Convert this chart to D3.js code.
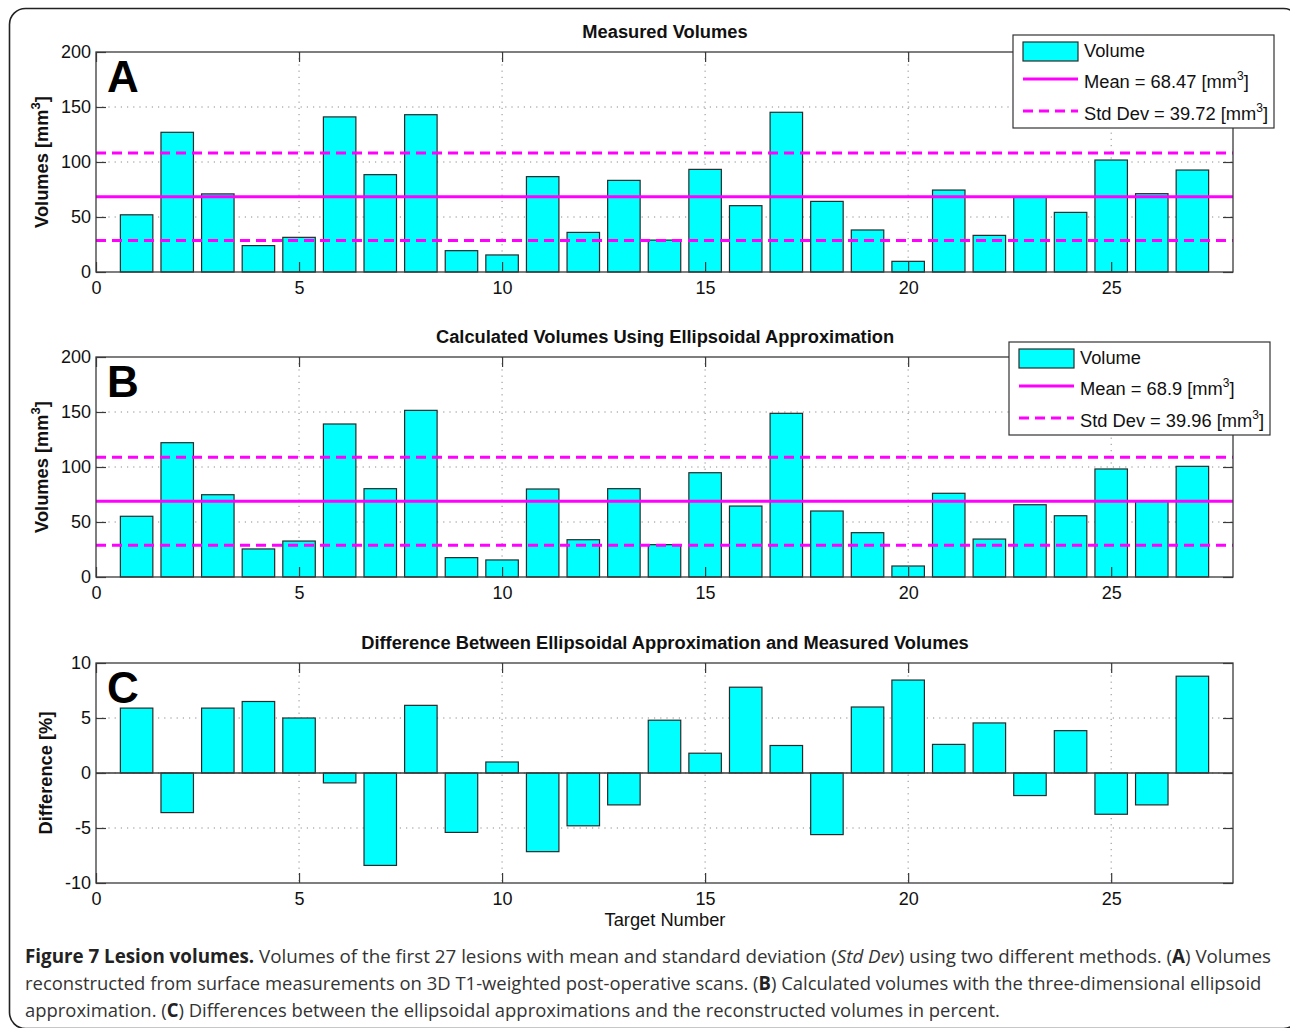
<!DOCTYPE html>
<html>
<head>
<meta charset="utf-8">
<script src="https://cdn.jsdelivr.net/npm/d3@7"></script>
<style>
  html, body { margin: 0; padding: 0; background: #fff; }
  svg { display: block; }
</style>
</head>
<body>
<svg id="fig" width="1290" height="1028"></svg>
<script>
// Target (lesion) numbers
const targets = [1, 2, 3, 4, 5, 6, 7, 8, 9, 10, 11, 12, 13, 14, 15, 16, 17, 18, 19, 20, 21, 22, 23, 24, 25, 26, 27];

// Volumes reconstructed from surface measurements [mm^3]
const measuredVolumes = [52, 127, 71, 24, 31.5, 141, 88.5, 143, 19.4, 15.5, 86.7, 36, 83.3, 29, 93.3,
  60.3, 145.2, 64.2, 38.2, 9.7, 74.5, 33.3, 68, 54.2, 101.8, 71.2, 92.7];

// Volumes from the ellipsoidal approximation [mm^3]
const ellipsoidVolumes = [55.2, 122.1, 74.8, 25.5, 32.7, 139.1, 80.3, 151.5, 17.6, 15.5, 80, 33.9, 80.3, 29.4, 94.8,
  64.5, 148.8, 60, 40.3, 10, 76.1, 34.5, 65.7, 55.7, 98.2, 69, 100.6];

// Relative difference between the two methods [%]
const differencePct = [5.9, -3.6, 5.9, 6.5, 5.0, -0.9, -8.4, 6.15, -5.4, 1.0, -7.15, -4.8, -2.9, 4.8, 1.8,
  7.8, 2.5, -5.6, 6.0, 8.45, 2.6, 4.55, -2.05, 3.85, -3.75, -2.9, 8.8];

// Summary statistics shown in the legends
const measuredMean = 68.47, measuredStd = 39.72;
const ellipsoidMean = 68.9, ellipsoidStd = 39.96;

// Tick labels
const xTicks = [0, 5, 10, 15, 20, 25];
const volumeTicks = [0, 50, 100, 150, 200];
const diffTicks = [-10, -5, 0, 5, 10];

const svg = d3.select("#fig");
const FONT = "'Liberation Sans', Arial, Helvetica, sans-serif";
const AXIS_COLOR = "#3a3a3a";
const BAR_FILL = "#00ffff";
const MAGENTA = "#ff00ff";
const TICK_SIZE = 18;
const LABEL_SIZE = 18.3;

// Outer frame of the figure
svg.append("rect")
  .attr("x", 9.5).attr("y", 8.5)
  .attr("width", 1290).attr("height", 1020)
  .attr("rx", 16).attr("ry", 16)
  .attr("fill", "none").attr("stroke", "#222").attr("stroke-width", 1.6);

const x = d3.scaleLinear().domain([0, 28]).range([96, 1233]);
const plainNumber = d => String(d);

function drawPanel(cfg) {
  const g = svg.append("g");
  const y = d3.scaleLinear().domain(cfg.domain).range([cfg.bottom, cfg.top]);
  const tickLen = 10;

  // dotted grid
  const grid = g.append("g").attr("stroke", "#8a8a8a").attr("stroke-width", 1)
    .attr("stroke-dasharray", "1.2,5");
  xTicks.filter(t => t > 0).forEach(t => {
    grid.append("line").attr("x1", x(t)).attr("x2", x(t))
      .attr("y1", cfg.top).attr("y2", cfg.bottom);
  });
  cfg.ticks.filter(t => t !== cfg.domain[0] && t !== cfg.domain[1]).forEach(t => {
    grid.append("line").attr("x1", x(0)).attr("x2", x(28))
      .attr("y1", y(t)).attr("y2", y(t));
  });

  // bars (width 0.8 of the unit spacing)
  const base = y(0);
  g.append("g").selectAll("rect").data(cfg.values).join("rect")
    .attr("x", (d, i) => x(targets[i] - 0.4))
    .attr("width", x(0.8) - x(0))
    .attr("y", d => Math.min(y(d), base))
    .attr("height", d => Math.abs(y(d) - base))
    .attr("fill", BAR_FILL)
    .attr("stroke", "#2a2a2a").attr("stroke-width", 1.2);

  // baseline for diverging bars
  if (cfg.domain[0] < 0) {
    g.append("line").attr("x1", x(0)).attr("x2", x(28))
      .attr("y1", base).attr("y2", base)
      .attr("stroke", AXIS_COLOR).attr("stroke-width", 1.3);
  }

  // mean and +/- std lines
  if (cfg.mean !== undefined) {
    g.append("line").attr("x1", x(0)).attr("x2", x(28))
      .attr("y1", y(cfg.mean)).attr("y2", y(cfg.mean))
      .attr("stroke", MAGENTA).attr("stroke-width", 3);
    [cfg.mean + cfg.std, cfg.mean - cfg.std].forEach(v => {
      g.append("line").attr("x1", x(0)).attr("x2", x(28))
        .attr("y1", y(v)).attr("y2", y(v))
        .attr("stroke", MAGENTA).attr("stroke-width", 3)
        .attr("stroke-dasharray", "10,6");
    });
  }

  // axes (inward ticks on all four sides)
  const styleAxis = sel => {
    sel.select(".domain").remove();
    sel.selectAll(".tick line").attr("stroke", AXIS_COLOR).attr("stroke-width", 1.2);
    sel.selectAll(".tick text").attr("font-family", FONT).attr("font-size", TICK_SIZE).attr("fill", "#111");
  };
  g.append("g").attr("transform", `translate(0,${cfg.bottom})`)
    .call(d3.axisBottom(x).tickValues(xTicks).tickFormat(plainNumber)
      .tickSizeInner(-tickLen).tickSizeOuter(0).tickPadding(9))
    .call(styleAxis);
  g.append("g").attr("transform", `translate(0,${cfg.top})`)
    .call(d3.axisTop(x).tickValues(xTicks).tickSizeInner(-tickLen).tickSizeOuter(0).tickFormat(""))
    .call(styleAxis);
  g.append("g").attr("transform", `translate(${x(0)},0)`)
    .call(d3.axisLeft(y).tickValues(cfg.ticks).tickFormat(plainNumber)
      .tickSizeInner(-tickLen).tickSizeOuter(0).tickPadding(5))
    .call(styleAxis);
  g.append("g").attr("transform", `translate(${x(28)},0)`)
    .call(d3.axisRight(y).tickValues(cfg.ticks).tickSizeInner(-tickLen).tickSizeOuter(0).tickFormat(""))
    .call(styleAxis);

  // axes box
  g.append("rect").attr("x", x(0)).attr("y", cfg.top)
    .attr("width", x(28) - x(0)).attr("height", cfg.bottom - cfg.top)
    .attr("fill", "none").attr("stroke", AXIS_COLOR).attr("stroke-width", 1.3);

  // title
  g.append("text").attr("x", 665).attr("y", cfg.top - 14)
    .attr("text-anchor", "middle").attr("font-family", FONT)
    .attr("font-weight", "bold").attr("font-size", LABEL_SIZE).attr("fill", "#111")
    .text(cfg.title);

  // panel letter
  g.append("text").attr("x", 107).attr("y", cfg.top + 40)
    .attr("font-family", FONT).attr("font-weight", "bold")
    .attr("font-size", 44).attr("fill", "#000").text(cfg.letter);

  // y label
  const yl = g.append("text")
    .attr("transform", `translate(${cfg.ylabelX},${(cfg.top + cfg.bottom) / 2}) rotate(-90)`)
    .attr("text-anchor", "middle").attr("font-family", FONT)
    .attr("font-weight", "bold").attr("font-size", LABEL_SIZE).attr("fill", "#111");
  yl.append("tspan").text(cfg.ylabel);
  if (cfg.ylabelSup) {
    yl.append("tspan").attr("dy", -8).attr("font-size", 13).text(cfg.ylabelSup);
    yl.append("tspan").attr("dy", 8).text("]");
  }

  // legend
  if (cfg.legend) {
    const L = cfg.legend;
    const lg = g.append("g").attr("transform", `translate(${L.x},${L.y})`);
    lg.append("rect").attr("width", L.w).attr("height", 93)
      .attr("fill", "#fff").attr("stroke", "#333").attr("stroke-width", 1.2);
    lg.append("rect").attr("x", 10).attr("y", 7).attr("width", 55).attr("height", 19)
      .attr("fill", BAR_FILL).attr("stroke", "#2a2a2a").attr("stroke-width", 1.2);
    lg.append("line").attr("x1", 10).attr("x2", 65).attr("y1", 44).attr("y2", 44)
      .attr("stroke", MAGENTA).attr("stroke-width", 3);
    lg.append("line").attr("x1", 10).attr("x2", 65).attr("y1", 76).attr("y2", 76)
      .attr("stroke", MAGENTA).attr("stroke-width", 3).attr("stroke-dasharray", "10,6");
    const entry = (ty, label, sup) => {
      const t = lg.append("text").attr("x", 71).attr("y", ty)
        .attr("font-family", FONT).attr("font-size", LABEL_SIZE).attr("fill", "#111");
      t.append("tspan").text(label);
      if (sup) {
        t.append("tspan").attr("dy", -8).attr("font-size", 12).text(sup);
        t.append("tspan").attr("dy", 8).text("]");
      }
    };
    entry(22, "Volume");
    entry(53, `Mean = ${L.mean} [mm`, "3");
    entry(85, `Std Dev = ${L.std} [mm`, "3");
  }
  return y;
}

drawPanel({
  top: 52, bottom: 272, domain: [0, 200], ticks: volumeTicks,
  values: measuredVolumes, mean: measuredMean, std: measuredStd,
  title: "Measured Volumes", letter: "A",
  ylabel: "Volumes [mm", ylabelSup: "3", ylabelX: 48,
  legend: { x: 1013, y: 35, w: 261, mean: measuredMean, std: measuredStd }
});

drawPanel({
  top: 357, bottom: 577, domain: [0, 200], ticks: volumeTicks,
  values: ellipsoidVolumes, mean: ellipsoidMean, std: ellipsoidStd,
  title: "Calculated Volumes Using Ellipsoidal Approximation", letter: "B",
  ylabel: "Volumes [mm", ylabelSup: "3", ylabelX: 48,
  legend: { x: 1009, y: 342, w: 261, mean: ellipsoidMean, std: ellipsoidStd }
});

drawPanel({
  top: 663, bottom: 883, domain: [-10, 10], ticks: diffTicks,
  values: differencePct,
  title: "Difference Between Ellipsoidal Approximation and Measured Volumes", letter: "C",
  ylabel: "Difference [%]", ylabelX: 52
});

// x-axis label
svg.append("text").attr("x", 665).attr("y", 926)
  .attr("text-anchor", "middle").attr("font-family", FONT)
  .attr("font-size", LABEL_SIZE).attr("fill", "#111").text("Target Number");

// Caption
const CAP_FONT = "'Open Sans', 'Noto Sans', sans-serif";
const captionLines = [
  { y: 963, w: 1247, parts: [
    ["Figure 7 Lesion volumes.", "b"], [" Volumes of the first 27 lesions with mean and standard deviation (", ""],
    ["Std Dev", "i"], [") using two different methods. (", ""], ["A", "b"], [") Volumes", ""]] },
  { y: 990, w: 1237, parts: [
    ["reconstructed from surface measurements on 3D T1-weighted post-operative scans. (", ""], ["B", "b"],
    [") Calculated volumes with the three-dimensional ellipsoid", ""]] },
  { y: 1017, w: 975, parts: [
    ["approximation. (", ""], ["C", "b"], [") Differences between the ellipsoidal approximations and the reconstructed volumes in percent.", ""]] }
];
captionLines.forEach(line => {
  const t = svg.append("text").attr("x", 0).attr("y", 0)
    .attr("font-family", CAP_FONT).attr("font-size", 19).attr("fill", "#333");
  line.parts.forEach(([s, st]) => {
    const sp = t.append("tspan").text(s);
    if (st === "b") sp.attr("font-weight", "bold").attr("fill", "#222");
    if (st === "i") sp.attr("font-style", "italic");
  });
  const len = t.node().getComputedTextLength();
  t.attr("transform", `translate(25,${line.y}) scale(${line.w / len},1)`);
});
</script>
</body>
</html>
